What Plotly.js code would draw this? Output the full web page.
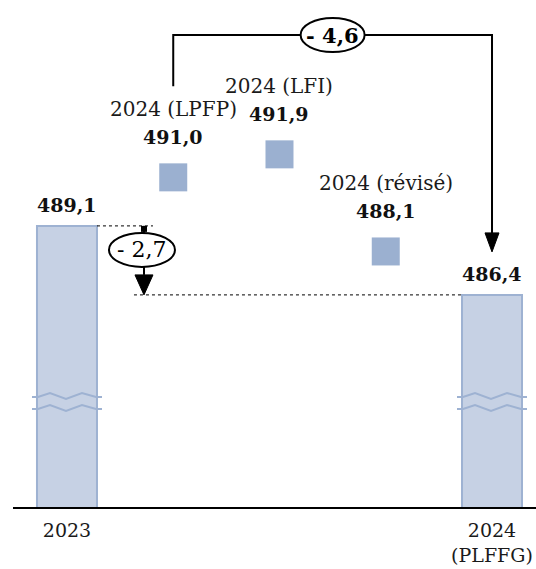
<!DOCTYPE html>
<html>
<head>
<meta charset="utf-8">
<script src="https://cdn.plot.ly/plotly-3.0.1.min.js"></script>
<style>html,body{margin:0;padding:0;background:#fff;}#chart{width:536px;height:569px;}</style>
</head>
<body>
<div id="chart"></div>
<script>
// ---- data ----
const barLabels = ['2023', '2024<br>(PLFFG)'];
const barValues = [489.1, 486.4];
const barX = [0, 4];
const pointLabels = ['2024 (LPFP)', '2024 (LFI)', '2024 (révisé)'];
const pointValues = [491.0, 491.9, 488.1];
const pointX = [1, 2, 3];

// ---- layout geometry ----
const W = 536, H = 569;
const margin = {l: 13, r: 0, t: 0, b: 62, pad: 0};
const xRange = [-0.508, 4.414];
const yRange = [478.1, 497.94];
const plotW = W - margin.l - margin.r;
const plotH = H - margin.t - margin.b;
const pxX = plotW / (xRange[1] - xRange[0]);
const pxY = plotH / (yRange[1] - yRange[0]);
const dx = p => p / pxX;
const dy = p => p / pxY;

const fmt = v => (v < 0 ? '- ' : '') + Math.abs(v).toFixed(1).replace('.', ',');
const FONT = 'DejaVu Serif';
const barFill = '#c6d1e4';
const barEdge = '#9eb2d2';
const pointFill = '#9bb0d0';
const barHalf = dx(30);

const startBar = barValues[0], endBar = barValues[1];
const lpfp = pointValues[0];
const shortDelta = endBar - startBar;   // -2,7
const longDelta = endBar - lpfp;        // -4,6

const traces = [
  {
    type: 'bar', x: barX, y: barValues, width: 2 * barHalf,
    marker: {color: barFill, line: {color: barEdge, width: 2}},
    hoverinfo: 'skip'
  },
  {
    type: 'scatter', mode: 'markers', x: pointX, y: pointValues,
    marker: {symbol: 'square', size: 28, color: pointFill},
    hoverinfo: 'skip'
  }
];

const annotations = [];
barX.forEach((x, i) => {
  annotations.push({x: x, y: barValues[i], yshift: 21, showarrow: false,
    text: '<b>' + fmt(barValues[i]) + '</b>', font: {family: FONT, size: 19, color: '#111'}});
});
pointX.forEach((x, i) => {
  annotations.push({x: x, y: pointValues[i], yshift: 68, showarrow: false,
    text: pointLabels[i], font: {family: FONT, size: 20, color: '#1a1a1a'}});
  annotations.push({x: x, y: pointValues[i], yshift: 40, showarrow: false,
    text: '<b>' + fmt(pointValues[i]) + '</b>', font: {family: FONT, size: 19, color: '#111'}});
});

const shapes = [];
// wavy break marks on the bars
const breakY = [yRange[0] + dy(110), yRange[0] + dy(98)];
const wave = [[-35, 0], [-29, 0], [-17, 4], [-1, -2], [15, 4], [29, 0], [35, 0]];
barX.forEach(cx => {
  breakY.forEach(by => {
    let p = '';
    wave.forEach((pt, k) => {
      p += (k === 0 ? 'M' : 'L') + (cx + dx(pt[0])) + ',' + (by + dy(pt[1])) + ' ';
    });
    shapes.push({type: 'path', path: p, line: {color: barEdge, width: 2}, layer: 'above'});
  });
});

// long bracket from LPFP to PLFFG
const bracketY = yRange[1] - dy(35);
const lx = pointX[0], rx = barX[1];
const arrowTopR = endBar + dy(62), arrowTipR = endBar + dy(43);
shapes.push({type: 'path',
  path: 'M' + lx + ',' + (lpfp + dy(91)) + ' L' + lx + ',' + bracketY + ' L' + rx + ',' + bracketY + ' L' + rx + ',' + arrowTopR,
  line: {color: '#000', width: 2}});
shapes.push({type: 'path',
  path: 'M' + (rx - dx(7)) + ',' + arrowTopR + ' L' + (rx + dx(7)) + ',' + arrowTopR + ' L' + rx + ',' + arrowTipR + ' Z',
  fillcolor: '#000', line: {color: '#000', width: 1}});
const midX = (lx + rx) / 2;
shapes.push({type: 'circle', x0: midX - dx(32), x1: midX + dx(32), y0: bracketY - dy(17), y1: bracketY + dy(17),
  fillcolor: '#fff', line: {color: '#000', width: 2}});
annotations.push({x: midX, y: bracketY, showarrow: false, text: '<b>' + fmt(longDelta) + '</b>',
  font: {family: FONT, size: 21, color: '#000'}});

// short arrow 2023 -> PLFFG
const ax = barX[0] + dx(77);
shapes.push({type: 'line', x0: barX[0] + barHalf, x1: ax + dx(9), y0: startBar, y1: startBar,
  line: {color: '#000', width: 1, dash: '3px,3px'}});
shapes.push({type: 'line', x0: ax - dx(10), x1: barX[1] - barHalf, y0: endBar, y1: endBar,
  line: {color: '#000', width: 1, dash: '3px,3px'}});
const arrowTopS = endBar + dy(20);
shapes.push({type: 'line', x0: ax, x1: ax, y0: startBar, y1: arrowTopS, line: {color: '#000', width: 2}});
shapes.push({type: 'rect', x0: ax - dx(3), x1: ax + dx(3), y0: startBar - dy(6), y1: startBar,
  fillcolor: '#000', line: {width: 0}});
shapes.push({type: 'path',
  path: 'M' + (ax - dx(9)) + ',' + arrowTopS + ' L' + (ax + dx(9)) + ',' + arrowTopS + ' L' + ax + ',' + endBar + ' Z',
  fillcolor: '#000', line: {color: '#000', width: 1}});
const ex = barX[0] + dx(75), ey = startBar - dy(24);
shapes.push({type: 'circle', x0: ex - dx(33), x1: ex + dx(33), y0: ey - dy(17), y1: ey + dy(17),
  fillcolor: '#fff', line: {color: '#000', width: 2}});
annotations.push({x: ex, y: ey, showarrow: false, text: fmt(shortDelta),
  font: {family: FONT, size: 22, color: '#000'}});

const layout = {
  width: W, height: H, margin: margin,
  paper_bgcolor: '#fff', plot_bgcolor: '#fff',
  showlegend: false,
  xaxis: {range: xRange, tickvals: barX, ticktext: barLabels, ticks: '', showgrid: false, zeroline: false,
    showline: true, linecolor: '#000', linewidth: 2, ticklabelstandoff: 5,
    tickfont: {family: FONT, size: 19, color: '#1a1a1a'}, fixedrange: true},
  yaxis: {range: yRange, visible: false, showgrid: false, zeroline: false, fixedrange: true},
  shapes: shapes,
  annotations: annotations
};

Plotly.newPlot('chart', traces, layout, {staticPlot: true, displayModeBar: false});
</script>
</body>
</html>
